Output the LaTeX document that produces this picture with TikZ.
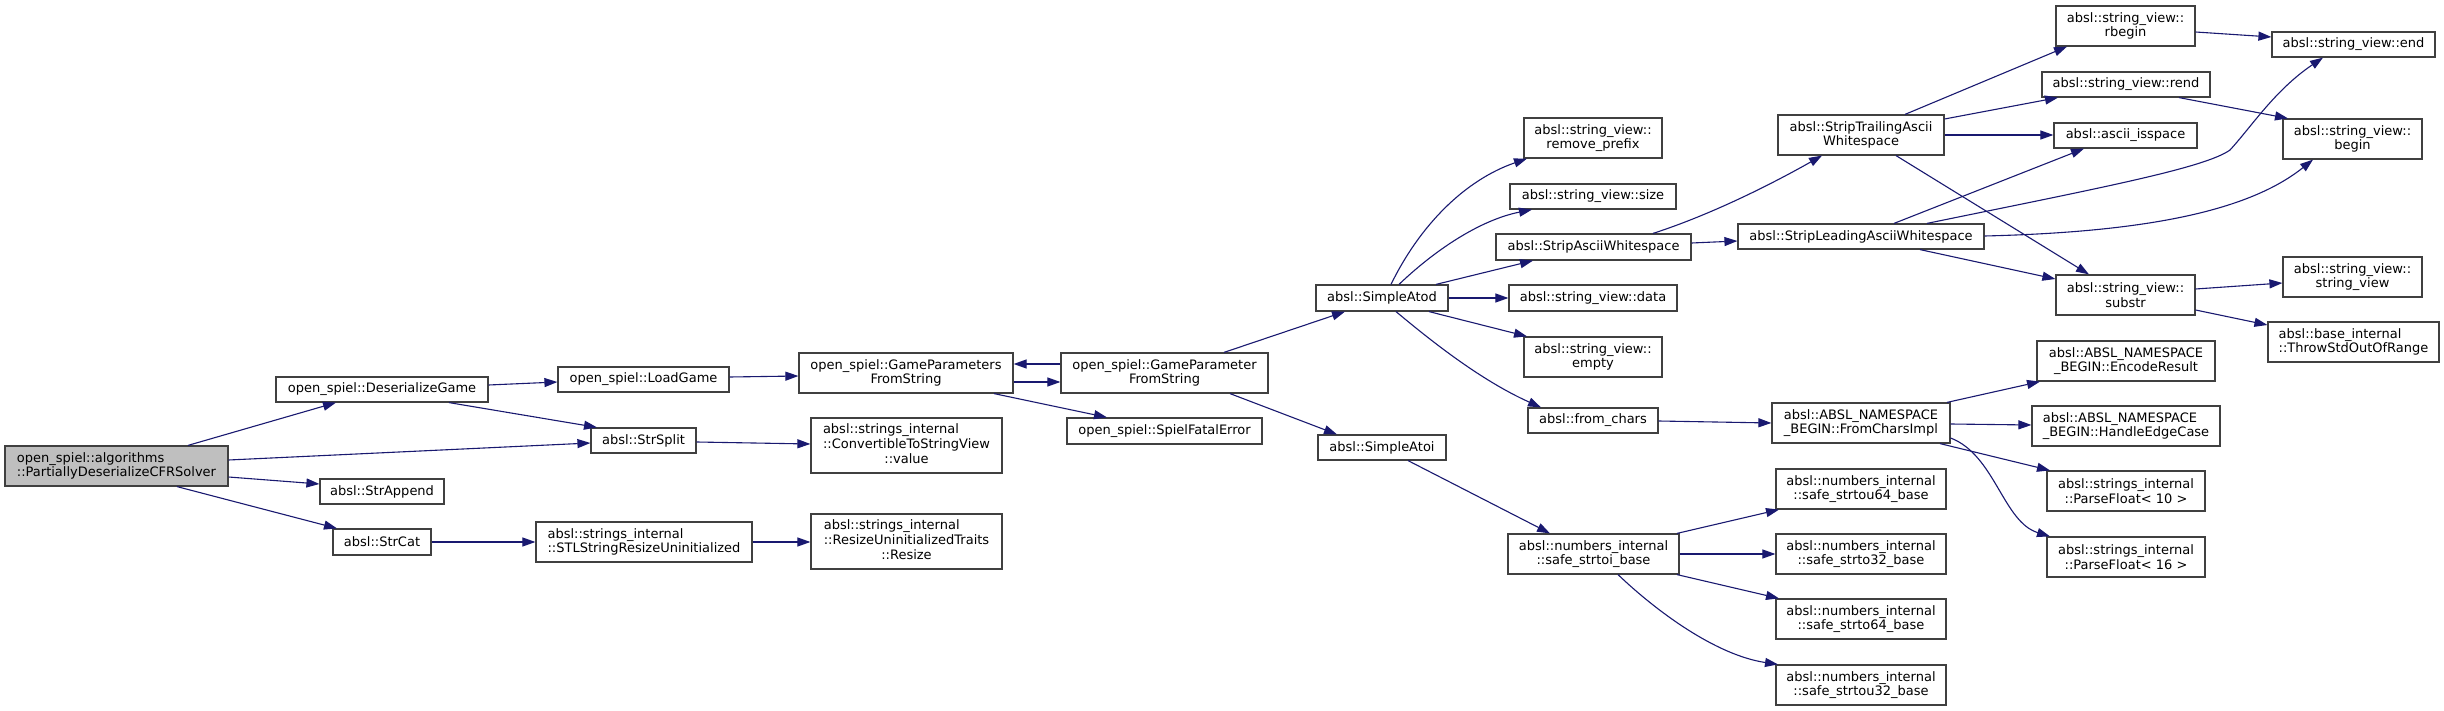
\documentclass[tikz,border=0pt]{standalone}
\usepackage{fontspec}
\setmainfont{DejaVu Sans}
\usetikzlibrary{arrows.meta}
\definecolor{edgec}{HTML}{191970}
\definecolor{boxc}{HTML}{404040}
\definecolor{rootfill}{HTML}{BFBFBF}
\newcommand\gnode[7][]{\node[fn,#1,minimum width={(#5)-(#3)},minimum height={(#6)-(#4)}] (#2) at ({((#3)+(#5))/2},{((#4)+(#6))/2}) {#7};}
\tikzset{
  fn/.style={draw=boxc, line width=1.2pt, fill=white, inner sep=0pt, font=\fontsize{13}{14.7}\selectfont, align=center, text=black},
  rootn/.style={fill=rootfill, align=left},
  leftn/.style={align=left},
  call/.style={draw=edgec, line width=1.1pt, -{Triangle[length=13pt,width=9pt]}}
}
\begin{document}
\begin{tikzpicture}[x=1pt,y=-1pt]
\fill[white] (0,0) rectangle (2444,711);
\useasboundingbox (0,0) rectangle (2444,711);
% nodes
\gnode[rootn]{root}{5}{446}{228}{486}{open\_spiel::algorithms\\::PartiallyDeserializeCFRSolver}
\gnode{des}{276}{377}{488}{402}{open\_spiel::DeserializeGame}
\gnode{load}{558}{367}{729}{392}{open\_spiel::LoadGame}
\gnode{split}{591}{428}{696}{453}{absl::StrSplit}
\gnode{app}{320}{479}{444}{504}{absl::StrAppend}
\gnode{cat}{333}{529}{431}{555}{absl::StrCat}
\gnode[leftn]{stl}{536}{522}{752}{562}{absl::strings\_internal\\::STLStringResizeUninitialized}
\gnode{gpfs}{799}{353}{1013}{393}{open\_spiel::GameParameters\\FromString}
\gnode{conv}{811}{418}{1002}{473}{\begin{tabular}{@{}l@{}}absl::strings\_internal\\::ConvertibleToStringView\\\multicolumn{1}{@{}c@{}}{::value}\end{tabular}}
\gnode{resz}{811}{514}{1002}{569}{\begin{tabular}{@{}l@{}}absl::strings\_internal\\::ResizeUninitializedTraits\\\multicolumn{1}{@{}c@{}}{::Resize}\end{tabular}}
\gnode{gpf}{1061}{353}{1268}{393}{open\_spiel::GameParameter\\FromString}
\gnode{fatal}{1067}{418}{1262}{444}{open\_spiel::SpielFatalError}
\gnode{atod}{1316}{285}{1448}{311}{absl::SimpleAtod}
\gnode{atoi}{1318}{435}{1446}{460}{absl::SimpleAtoi}
\gnode{rpre}{1524}{118}{1662}{158}{absl::string\_view::\\remove\_prefix}
\gnode{size}{1510}{184}{1676}{209}{absl::string\_view::size}
\gnode{saw}{1496}{234}{1691}{260}{absl::StripAsciiWhitespace}
\gnode{data}{1509}{285}{1677}{311}{absl::string\_view::data}
\gnode{empty}{1524}{337}{1662}{377}{absl::string\_view::\\empty}
\gnode{fc}{1528}{408}{1658}{433}{absl::from\_chars}
\gnode{sti}{1508}{534}{1679}{574}{absl::numbers\_internal\\::safe\_strtoi\_base}
\gnode{trail}{1778}{115}{1944}{155}{absl::StripTrailingAscii\\Whitespace}
\gnode{lead}{1738}{224}{1984}{249}{absl::StripLeadingAsciiWhitespace}
\gnode[leftn]{fci}{1772}{403}{1950}{443}{absl::ABSL\_NAMESPACE\\\_BEGIN::FromCharsImpl}
\gnode{u64}{1776}{469}{1946}{509}{absl::numbers\_internal\\::safe\_strtou64\_base}
\gnode{s32}{1776}{534}{1946}{574}{absl::numbers\_internal\\::safe\_strto32\_base}
\gnode{s64}{1776}{599}{1946}{639}{absl::numbers\_internal\\::safe\_strto64\_base}
\gnode{u32}{1776}{665}{1946}{705}{absl::numbers\_internal\\::safe\_strtou32\_base}
\gnode{rbegin}{2056}{6}{2195}{46}{absl::string\_view::\\rbegin}
\gnode{rend}{2042}{72}{2210}{97}{absl::string\_view::rend}
\gnode{isspace}{2054}{123}{2197}{148}{absl::ascii\_isspace}
\gnode{end}{2272}{32}{2435}{57}{absl::string\_view::end}
\gnode{begin}{2283}{119}{2422}{159}{absl::string\_view::\\begin}
\gnode{substr}{2056}{275}{2195}{315}{absl::string\_view::\\substr}
\gnode{sv}{2283}{257}{2422}{297}{absl::string\_view::\\string\_view}
\gnode[leftn]{throw}{2268}{322}{2439}{362}{absl::base\_internal\\::ThrowStdOutOfRange}
\gnode{enc}{2037}{341}{2215}{381}{absl::ABSL\_NAMESPACE\\\_BEGIN::EncodeResult}
\gnode[leftn]{hedge}{2032}{406}{2220}{446}{absl::ABSL\_NAMESPACE\\\_BEGIN::HandleEdgeCase}
\gnode{pf10}{2047}{471}{2205}{511}{absl::strings\_internal\\::ParseFloat< 10 >}
\gnode{pf16}{2047}{537}{2205}{577}{absl::strings\_internal\\::ParseFloat< 16 >}
% edges
\draw[call] (188,0 |- root.north) -- (336,0 |- des.south);
\draw[call] (root.east |- 0,460) -- (split.west |- 0,443);
\draw[call] (root.east |- 0,477) -- (app.west |- 0,484);
\draw[call] (177,0 |- root.south) -- (337,0 |- cat.north);
\draw[call] (des.east |- 0,385) -- (load.west |- 0,382);
\draw[call] (449,0 |- des.south) -- (597,0 |- split.north);
\draw[call] (load.east |- 0,377) -- (gpfs.west |- 0,376);
\draw[call] (split.east |- 0,442) -- (conv.west |- 0,444);
\draw[call] (cat.east |- 0,542) -- (stl.west |- 0,542);
\draw[call] (stl.east |- 0,542) -- (resz.west |- 0,542);
\draw[call] (gpfs.east |- 0,382) -- (gpf.west |- 0,382);
\draw[call] (gpf.west |- 0,364) -- (gpfs.east |- 0,364);
\draw[call] (994,0 |- gpfs.south) -- (1107,0 |- fatal.north);
\draw[call] (1224,0 |- gpf.north) -- (1345,0 |- atod.south);
\draw[call] (1230,0 |- gpf.south) -- (1337,0 |- atoi.north);
\draw[call] (1391,0 |- atod.north) .. controls (1420,225) and (1465,180) .. (1527,0 |- rpre.south);
\draw[call] (1399,0 |- atod.north) .. controls (1435,250) and (1480,220) .. (1532,0 |- size.south);
\draw[call] (1436,0 |- atod.north) -- (1533,0 |- saw.south);
\draw[call] (atod.east |- 0,298) -- (data.west |- 0,298);
\draw[call] (1429,0 |- atod.south) -- (1527,0 |- empty.north);
\draw[call] (1396,0 |- atod.south) .. controls (1430,340) and (1480,380) .. (1541,0 |- fc.north);
\draw[call] (1408,0 |- atoi.south) -- (1550,0 |- sti.north);
\draw[call] (1653,0 |- saw.north) .. controls (1710,215) and (1770,185) .. (1822,0 |- trail.south);
\draw[call] (saw.east |- 0,243) -- (lead.west |- 0,241);
\draw[call] (1905,0 |- trail.north) -- (2067,0 |- rbegin.south);
\draw[call] (trail.east |- 0,119) -- (2058,0 |- rend.south);
\draw[call] (trail.east |- 0,135) -- (isspace.west |- 0,135);
\draw[call] (1896,0 |- trail.south) -- (2089,0 |- substr.north);
\draw[call] (1894,0 |- lead.north) -- (2084,0 |- isspace.south);
\draw[call] (1927,0 |- lead.north) .. controls (2100,188) and (2205,168) .. (2230,150) .. controls (2252,126) and (2275,90) .. (2323,0 |- end.south);
\draw[call] (lead.east |- 0,236) .. controls (2150,232) and (2250,210) .. (2313,0 |- begin.south);
\draw[call] (1920,0 |- lead.south) -- (substr.west |- 0,279);
\draw[call] (rbegin.east |- 0,32) -- (end.west |- 0,37);
\draw[call] (2179,0 |- rend.south) -- (2288,0 |- begin.north);
\draw[call] (substr.east |- 0,289) -- (sv.west |- 0,283);
\draw[call] (substr.east |- 0,310) -- (throw.west |- 0,325);
\draw[call] (fc.east |- 0,421) -- (fci.west |- 0,423);
\draw[call] (1947,0 |- fci.north) -- (2040,0 |- enc.south);
\draw[call] (fci.east |- 0,424) -- (hedge.west |- 0,425);
\draw[call] (1940,0 |- fci.south) -- (2050,0 |- pf10.north);
\draw[call] (fci.east |- 0,438) .. controls (1995,455) and (2003,522) .. (2050,0 |- pf16.north);
\draw[call] (1677,0 |- sti.north) -- (1779,0 |- u64.south);
\draw[call] (sti.east |- 0,554) -- (s32.west |- 0,554);
\draw[call] (1677,0 |- sti.south) -- (1779,0 |- s64.north);
\draw[call] (1618,0 |- sti.south) .. controls (1655,610) and (1715,655) .. (1778,0 |- u32.north);
\end{tikzpicture}
\end{document}
